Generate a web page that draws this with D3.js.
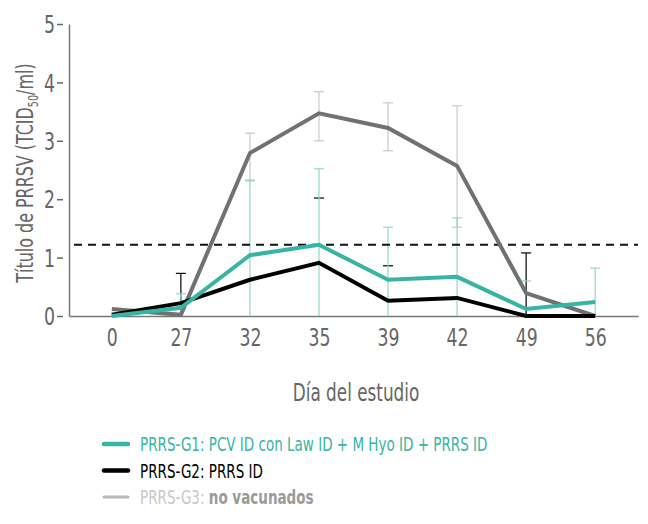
<!DOCTYPE html>
<html>
<head>
<meta charset="utf-8">
<script src="https://cdn.jsdelivr.net/npm/d3@7"></script>
<style>
  html, body { margin: 0; padding: 0; background: #fff; }
  svg text { font-family: "Liberation Sans Narrow", "DejaVu Sans Condensed", "Arial Narrow", sans-serif; }
</style>
</head>
<body>
<svg id="chart" width="648" height="524"></svg>
<script>
// ---- data ----
const days = ["0", "27", "32", "35", "39", "42", "49", "56"];
const yTicks = [0, 1, 2, 3, 4, 5];
const threshold = 1.22;

const g1Values = [0, 0.14, 1.04, 1.22, 0.62, 0.67, 0.12, 0.24];
const g1Upper  = [null, 0.38, 2.33, 2.52, 1.52, 1.68, 0.6, 0.82];
const g1Lower  = [null, 0, 0, 0, 0, 0, 0.6, 0];

const g2Values = [0.02, 0.22, 0.62, 0.91, 0.26, 0.31, 0, 0];
const g2Upper  = [null, 0.73, null, 2.02, 0.86, null, 1.08, null];
const g2Lower  = [null, 0.22, null, 2.02, 0.86, null, 0, null];

const g3Values = [0.12, 0.02, 2.79, 3.47, 3.22, 2.57, 0.39, 0];
const g3Upper  = [null, null, 3.13, 3.84, 3.65, 3.60, null, null];
const g3Lower  = [null, null, 2.31, 3.00, 2.83, 1.52, null, null];

const legendLabels = [
  ["PRRS-G1: PCV ID con Law ID + M Hyo ID + PRRS ID", ""],
  ["PRRS-G2: PRRS ID", ""],
  ["PRRS-G3: ", "no vacunados"]
];

// ---- styles ----
const series = [
  { name: "g3", values: g3Values, upper: g3Upper, lower: g3Lower, color: "#717171", bar: "#c9c9c9" },
  { name: "g2", values: g2Values, upper: g2Upper, lower: g2Lower, color: "#000000", bar: "#000000" },
  { name: "g1", values: g1Values, upper: g1Upper, lower: g1Lower, color: "#38b4a5", bar: "#93d6cc" }
];

const svg = d3.select("#chart");
const axisColor = "#777";
const textColor = "#666";
const SQ = 0.8; // horizontal squeeze to mimic a condensed typeface

const x = d3.scalePoint().domain(days).range([69, 638]).padding(0.62);
const y = d3.scaleLinear().domain([0, 5]).range([316, 24]);

// y axis
const yAxis = svg.append("g").attr("transform", "translate(69,0)")
  .call(d3.axisLeft(y).tickValues(yTicks).tickSize(0).tickPadding(0).tickFormat(d3.format("d")));
yAxis.select(".domain").attr("stroke", axisColor).attr("stroke-width", 1.5);
yAxis.selectAll(".tick text")
  .attr("fill", textColor).attr("font-size", 24).attr("dy", "0.36em")
  .attr("x", 0)
  .attr("transform", `translate(-14,0) scale(${SQ},1)`);
yAxis.selectAll(".tick").append("line")
  .attr("x1", -12).attr("x2", -6).attr("stroke", textColor).attr("stroke-width", 1.5);

// x axis
const xAxis = svg.append("g").attr("transform", "translate(0,316)")
  .call(d3.axisBottom(x).tickSize(0).tickPadding(13));
xAxis.select(".domain").attr("stroke", axisColor).attr("stroke-width", 1.5);
xAxis.selectAll(".tick text").attr("fill", textColor).attr("font-size", 24).attr("dy", "0.71em")
  .attr("transform", `scale(${SQ},1)`);

// axis titles
svg.append("text")
  .attr("transform", `translate(356,401) scale(0.78,1)`)
  .attr("text-anchor", "middle")
  .attr("fill", textColor).attr("font-size", 24)
  .text("Día del estudio");

const yt = svg.append("text")
  .attr("transform", "translate(33,173) rotate(-90) scale(0.77,1)")
  .attr("text-anchor", "middle")
  .attr("fill", textColor).attr("font-size", 23);
yt.append("tspan").text("Título de PRRSV (TCID");
yt.append("tspan").attr("font-size", 14).attr("dy", 5).text("50");
yt.append("tspan").attr("dy", -5).text("/ml)");

// error bars
const capW = 5;
series.forEach(s => {
  const g = svg.append("g");
  days.forEach((d, i) => {
    if (s.upper[i] == null) return;
    const cx = x(d);
    g.append("line")
      .attr("x1", cx).attr("x2", cx)
      .attr("y1", y(s.lower[i])).attr("y2", y(s.upper[i]))
      .attr("stroke", s.bar).attr("stroke-width", 1.2);
    g.append("line")
      .attr("x1", cx - capW).attr("x2", cx + capW)
      .attr("y1", y(s.upper[i])).attr("y2", y(s.upper[i]))
      .attr("stroke", s.bar).attr("stroke-width", 1.2);
    if (s.name === "g3") {
      g.append("line")
        .attr("x1", cx - capW).attr("x2", cx + capW)
        .attr("y1", y(s.lower[i])).attr("y2", y(s.lower[i]))
        .attr("stroke", s.bar).attr("stroke-width", 1.2);
    }
  });
});

// threshold line
svg.append("line")
  .attr("x1", 74).attr("x2", 638)
  .attr("y1", y(threshold)).attr("y2", y(threshold))
  .attr("stroke", "#111").attr("stroke-width", 2)
  .attr("stroke-dasharray", "8,6");

// lines
const line = d3.line().x((v, i) => x(days[i])).y(v => y(v));
series.forEach(s => {
  svg.append("path")
    .attr("d", line(s.values))
    .attr("fill", "none")
    .attr("stroke", s.color)
    .attr("stroke-width", 4)
    .attr("stroke-linejoin", "miter");
});

// legend
const legendColors = ["#38b4a5", "#000000", "#b8b8b8"];
const legendText = [["#38b4a5", null], ["#000000", null], ["#c8c8c8", "#9a9a9a"]];
const lg = svg.append("g");
legendLabels.forEach((lab, i) => {
  const ly = 444 + i * 26.5;
  lg.append("line")
    .attr("x1", 104).attr("x2", 128)
    .attr("y1", ly).attr("y2", ly)
    .attr("stroke", legendColors[i]).attr("stroke-width", i === 2 ? 3 : 4.5)
    .attr("stroke-linecap", "round");
  const t = lg.append("text")
    .attr("transform", `translate(140,${ly}) scale(0.77,1)`)
    .attr("dy", "0.36em")
    .attr("font-size", 19.5);
  t.append("tspan").attr("fill", legendText[i][0]).text(lab[0]);
  if (lab[1]) t.append("tspan").attr("fill", legendText[i][1]).attr("font-weight", "bold").text(lab[1]);
});
</script>
</body>
</html>
